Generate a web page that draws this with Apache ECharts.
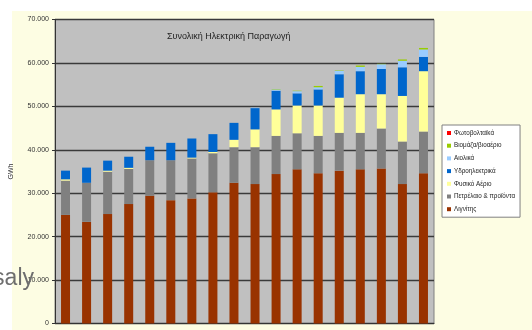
<!DOCTYPE html>
<html>
<head>
<meta charset="utf-8">
<script src="https://cdn.jsdelivr.net/npm/echarts@6/dist/echarts.min.js"></script>
<style>
  html, body { margin: 0; padding: 0; background: #ffffff; }
  #chart { width: 532px; height: 330px; }
</style>
</head>
<body>
<div id="chart"></div>
<script>
// Annual electricity generation by source (GWh), one value per year
const years = ['1990','1991','1992','1993','1994','1995','1996','1997','1998',
               '1999','2000','2001','2002','2003','2004','2005','2006','2007'];
const lignite = [25000, 23400, 25200, 27500, 29400, 28400, 28800, 30200, 32400,
                 32100, 34400, 35500, 34600, 35200, 35500, 35700, 32100, 34600];
const oil     = [7900, 9000, 9750, 8100, 8200, 9200, 9200, 9000, 8200,
                 8500, 8800, 8300, 8600, 8700, 8400, 9200, 9800, 9600];
const gas     = [300, 0, 250, 250, 0, 0, 200, 300, 1700,
                 4100, 6100, 6400, 7000, 8100, 8900, 7900, 10500, 13900];
const hydro   = [2000, 3500, 2300, 2550, 3100, 4000, 4400, 4100, 3900,
                 4900, 4300, 2800, 3700, 5400, 5300, 5800, 6600, 3300];
const wind    = [0, 0, 0, 0, 0, 0, 0, 0, 0,
                 100, 300, 500, 500, 800, 1000, 1100, 1500, 1700];
const biomass = [0, 0, 0, 0, 0, 0, 0, 0, 0,
                 0, 100, 100, 300, 100, 300, 100, 300, 350];
const solar   = [0, 0, 0, 0, 0, 0, 0, 0, 0,
                 0, 0, 0, 0, 0, 0, 0, 0, 0];
const yTicks  = [0, 10000, 20000, 30000, 40000, 50000, 60000, 70000];

const FONT = '"Liberation Sans", Arial, sans-serif';

// stacking order: bottom to top
const seriesDefs = [
  { name: 'Λιγνίτης',              data: lignite, color: '#993300' },
  { name: 'Πετρέλαιο & προϊόντα',  data: oil,     color: '#808080' },
  { name: 'Φυσικό Αέριο',          data: gas,     color: '#ffff99' },
  { name: 'Υδροηλεκτρικά',         data: hydro,   color: '#0066cc' },
  { name: 'Αιολικά',               data: wind,    color: '#99ccff' },
  { name: 'Βιομάζα/βιοαέριο',      data: biomass, color: '#99cc00' },
  { name: 'Φωτοβολταϊκά',          data: solar,   color: '#ff0000' }
];

const fmt = v => v === 0 ? '0' : (v / 1000).toFixed(3);

const chart = echarts.init(document.getElementById('chart'), null, { renderer: 'canvas' });

chart.setOption({
  animation: false,
  backgroundColor: 'transparent',
  textStyle: { fontFamily: FONT },
  graphic: [
    {
      type: 'rect', z: -100, silent: true,
      shape: { x: 12, y: 11, width: 520, height: 319 },
      style: { fill: '#fdfde3' }
    },
    {
      type: 'text', z: 100, silent: true,
      style: {
        x: 34, y: 290, text: 'saly', textAlign: 'right', textVerticalAlign: 'bottom',
        font: '23px ' + FONT, fill: '#6e6e6e'
      }
    }
  ],
  title: {
    text: 'Συνολική Ηλεκτρική Παραγωγή',
    left: 167, top: 32,
    padding: 0,
    textStyle: { fontSize: 9, fontWeight: 'normal', color: '#222', fontFamily: FONT }
  },
  legend: {
    orient: 'vertical',
    left: 442, top: 125,
    padding: [4, 5, 4, 5],
    backgroundColor: '#ffffff',
    borderColor: '#808080', borderWidth: 1,
    itemWidth: 4, itemHeight: 4, itemGap: 4.7,
    icon: 'rect',
    textStyle: { fontSize: 6.3, lineHeight: 8, color: '#222', fontFamily: FONT, padding: [0, 0, 0, -2] },
    data: ['Φωτοβολταϊκά', 'Βιομάζα/βιοαέριο', 'Αιολικά', 'Υδροηλεκτρικά',
           'Φυσικό Αέριο', 'Πετρέλαιο & προϊόντα', 'Λιγνίτης']
  },
  grid: {
    left: 55, right: 98, top: 19.5, bottom: 6.5,
    show: true, backgroundColor: '#c0c0c0',
    borderColor: '#808080', borderWidth: 1
  },
  xAxis: {
    type: 'category', data: years,
    axisLine: { show: true, lineStyle: { color: '#333' } },
    axisTick: { show: false },
    axisLabel: { show: false }
  },
  yAxis: {
    type: 'value',
    min: yTicks[0], max: yTicks[yTicks.length - 1], interval: 10000,
    name: 'GWh', nameLocation: 'middle', nameRotate: 90, nameGap: 40,
    nameTextStyle: { fontSize: 7, color: '#333', fontFamily: FONT },
    axisLine: { show: true, lineStyle: { color: '#333' } },
    axisTick: { show: true, length: 3, lineStyle: { color: '#333' } },
    axisLabel: { fontSize: 7, color: '#333', margin: 6, formatter: fmt, fontFamily: FONT },
    splitLine: { show: true, lineStyle: { color: '#3a3a3a', width: 1.3 } }
  },
  series: seriesDefs.map(s => ({
    name: s.name,
    type: 'bar',
    stack: 'total',
    barWidth: 9,
    data: s.data,
    itemStyle: { color: s.color },
    emphasis: { disabled: true }
  }))
});
</script>
</body>
</html>
